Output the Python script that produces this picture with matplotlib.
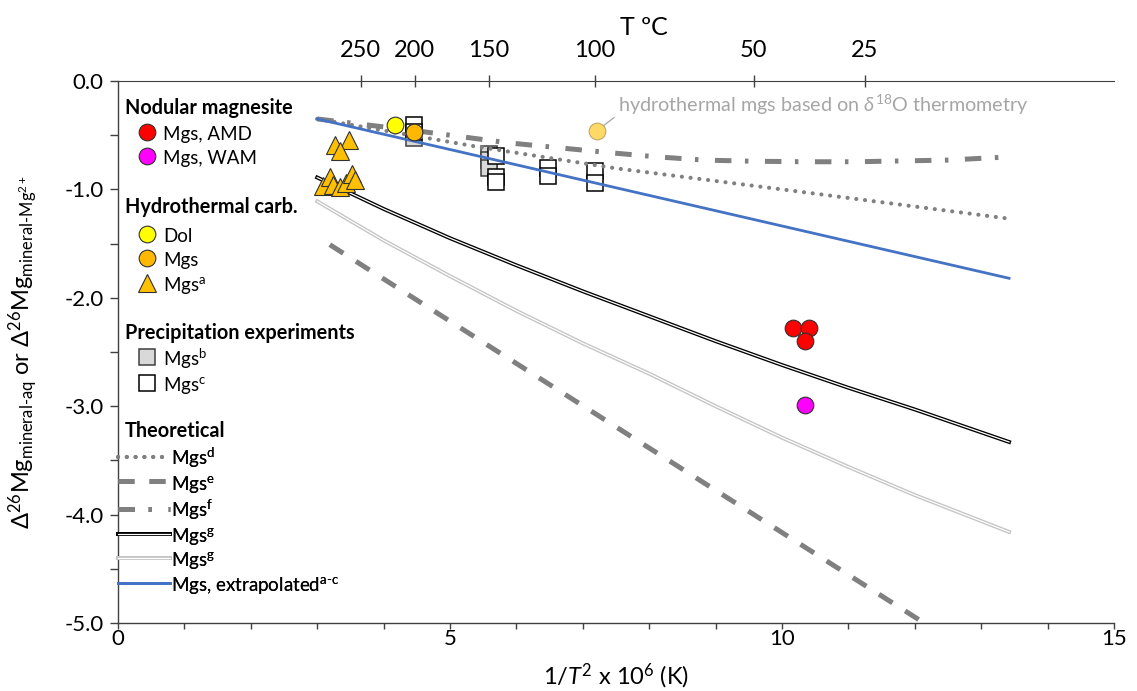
import numpy as np
import matplotlib
matplotlib.use('Agg')
import matplotlib.pyplot as plt
import matplotlib.patheffects as pe
from matplotlib.ticker import FormatStrFormatter

plt.rcParams['font.family'] = ['Lato', 'DejaVu Sans']
plt.rcParams['mathtext.fontset'] = 'custom'
plt.rcParams['mathtext.rm'] = 'Lato'
plt.rcParams['mathtext.it'] = 'Lato:italic'
plt.rcParams['mathtext.bf'] = 'Lato:bold'
plt.rcParams['mathtext.default'] = 'regular'
plt.rcParams['axes.unicode_minus'] = False

# ---------------- data ----------------
# Nodular magnesite
amd_x = [10.16, 10.41, 10.35]
amd_y = [-2.28, -2.28, -2.40]
wam_x = [10.35]
wam_y = [-2.99]
# Hydrothermal carbonates
dol_x = [4.17]
dol_y = [-0.41]
hmgs_x = [4.46]
hmgs_y = [-0.47]
mgsa_x = [3.27, 3.48, 3.35, 3.08, 3.19, 3.24, 3.34, 3.44, 3.52, 3.57]
mgsa_y = [-0.59, -0.54, -0.65, -0.97, -0.89, -0.96, -0.975, -0.94, -0.86, -0.91]
# Precipitation experiments
mgsb_x = [4.46, 5.58, 5.58, 5.58]
mgsb_y = [-0.53, -0.67, -0.73, -0.80]
mgsc_x = [4.46, 4.46, 5.69, 5.69, 5.69, 6.48, 6.48, 7.19, 7.19]
mgsc_y = [-0.41, -0.47, -0.69, -0.89, -0.93, -0.80, -0.88, -0.83, -0.94]
# hydrothermal mgs (d18O thermometry)
o18_x = [7.21]
o18_y = [-0.46]

# Theoretical curves
mgsd_x = [3.0, 5.35, 7.49, 10.0, 13.42]
mgsd_y = [-0.35, -0.60, -0.805, -1.00, -1.27]
mgse_x = [3.19, 12.14]
mgse_y = [-1.51, -5.0]
mgsf_x = [3.0, 4.5, 5.87, 7.38, 8.12, 8.84, 9.56, 10.35, 11.1, 12.48, 13.42]
mgsf_y = [-0.35, -0.46, -0.57, -0.66, -0.70, -0.73, -0.74, -0.745, -0.745, -0.73, -0.70]
mgsg_x = [3.0, 4, 5, 6, 7, 8, 9, 10, 11, 12, 13.42]
mgsg1_y = [-0.89, -1.18, -1.45, -1.70, -1.94, -2.17, -2.40, -2.62, -2.83, -3.03, -3.33]
mgsg2_y = [-1.11, -1.47, -1.80, -2.12, -2.42, -2.70, -3.00, -3.29, -3.56, -3.82, -4.16]
ext_x = [3.0, 13.42]
ext_y = [-0.35, -1.82]

top_T = [250, 200, 150, 100, 50, 25]

# ---------------- figure ----------------
fig = plt.figure(figsize=(11.37, 6.91), dpi=100)
ax = fig.add_axes([118 / 1137, 1 - 623 / 691, 996 / 1137, 542 / 691])
ax.set_xlim(0, 15)
ax.set_ylim(-5, 0)

gray = '#808080'
l_d, = ax.plot(mgsd_x, mgsd_y, color=gray, lw=3.0, dashes=(0.01, 2.1),
               dash_capstyle='round', zorder=2)
l_e, = ax.plot(mgse_x, mgse_y, color=gray, lw=3.6, dashes=(3.2, 3.0),
               dash_capstyle='butt', zorder=2)
l_f, = ax.plot(mgsf_x, mgsf_y, color=gray, lw=3.6, dashes=(3.3, 2.7, 0.7, 3.3),
               dash_capstyle='butt', zorder=2)
l_g1, = ax.plot(mgsg_x, mgsg1_y, color='white', lw=0.9, zorder=2,
                path_effects=[pe.Stroke(linewidth=2.8, foreground='black'), pe.Normal()])
l_g2, = ax.plot(mgsg_x, mgsg2_y, color='white', lw=0.9, zorder=2,
                path_effects=[pe.Stroke(linewidth=2.8, foreground='#C4C4C4'), pe.Normal()])
l_ext, = ax.plot(ext_x, ext_y, color='#4472C4', lw=2.0, zorder=2.1)

mew = 0.8
p_b, = ax.plot(mgsb_x, mgsb_y, ls='none', marker='s', ms=11, mfc='#D9D9D9',
               mec='#404040', mew=1.1, zorder=1.8)
p_c, = ax.plot(mgsc_x, mgsc_y, ls='none', marker='s', ms=11, mfc='white',
               mec='black', mew=1.1, zorder=1.8)
p_amd, = ax.plot(amd_x, amd_y, ls='none', marker='o', ms=12, mfc='#FF0000',
                 mec='#303030', mew=mew, zorder=3)
p_wam, = ax.plot(wam_x, wam_y, ls='none', marker='o', ms=12, mfc='#FF00FF',
                 mec='#303030', mew=mew, zorder=3)
p_dol, = ax.plot(dol_x, dol_y, ls='none', marker='o', ms=12, mfc='#FFFF00',
                 mec='#303030', mew=mew, zorder=3)
p_hm, = ax.plot(hmgs_x, hmgs_y, ls='none', marker='o', ms=12, mfc='#FFB800',
                mec='#303030', mew=mew, zorder=3)
p_a, = ax.plot(mgsa_x, mgsa_y, ls='none', marker='^', ms=13.5, mfc='#FFC000',
               mec='#303030', mew=mew, zorder=3)
p_o18, = ax.plot(o18_x, o18_y, ls='none', marker='o', ms=12, mfc='#FFD966',
                 mec='#BFA76A', mew=mew, zorder=3)

ax.annotate(r'hydrothermal mgs based on $\mathit{\delta}^{18}$O thermometry',
            xy=(o18_x[0], o18_y[0]), xytext=(7.53, -0.22), textcoords='data',
            color='#A6A6A6', fontsize=14.2, ha='left', va='center',
            arrowprops=dict(arrowstyle='-', color='#A6A6A6', lw=0.9,
                            shrinkA=1, shrinkB=6, relpos=(0, 0.1)))

# ---------------- axes styling ----------------
axc = '#404040'
for s in ['right', 'top']:
    ax.spines[s].set_visible(False)
for s in ['left', 'bottom']:
    ax.spines[s].set_color(axc)
    ax.spines[s].set_linewidth(1.0)

ax.set_xticks([0, 5, 10, 15])
ax.set_xticks(np.arange(0, 16, 1), minor=True)
ax.set_yticks(np.arange(-5, 0.01, 1))
ax.set_yticks(np.arange(-5, 0.01, 0.5), minor=True)
ax.yaxis.set_major_formatter(FormatStrFormatter('%.1f'))
ax.tick_params(which='both', direction='out', length=5.5, width=1, color=axc)
ax.tick_params(axis='x', which='both', length=4.5, pad=0, labelsize=16)
ax.tick_params(axis='y', which='both', pad=5, labelsize=16)

ax.set_xlabel(r'1/$\mathit{T}^2$ x 10$^6$ (K)', fontsize=17, labelpad=9)
ax.set_ylabel(r'$\mathit{\Delta}^{26}$Mg$_{\text{mineral-aq}}$ or '
              r'$\mathit{\Delta}^{26}$Mg$_{\text{mineral-Mg}^{2+}}$', fontsize=17)
ax.yaxis.set_label_coords(-0.078, 0.5)

ax2 = ax.twiny()
ax2.set_xlim(0, 15)
ax2.set_xticks([1e6 / (t + 273.15) ** 2 for t in top_T])
ax2.set_xticklabels([str(t) for t in top_T])
ax2.tick_params(axis='x', direction='inout', length=9, width=1, color=axc,
                pad=10, labelsize=17)
for s in ['right', 'left', 'bottom']:
    ax2.spines[s].set_visible(False)
ax2.spines['top'].set_color(axc)
ax2.set_xlabel('T ºC', fontsize=18)
ax2.xaxis.label.set_va('center')
ax2.xaxis.set_label_coords(0.528, 1.0996)

# ---------------- legend ----------------
fs = 13.5
def fy(py):
    return 1 - (py - 81) / 542

def fx(px):
    return (px - 118) / 996

for title, ypix in [('Nodular magnesite', 107.5), ('Hydrothermal carb.', 207),
                    ('Precipitation experiments', 333), ('Theoretical', 431)]:
    ax.text(fx(125), fy(ypix), title, transform=ax.transAxes, fontsize=14.3,
            fontweight='bold', ha='left', va='center')

common = dict(loc='upper left', frameon=False, fontsize=fs, borderpad=0,
              borderaxespad=0, numpoints=1, bbox_transform=ax.transAxes,
              handleheight=1.3)
groups = [
    ([p_amd, p_wam], ['Mgs, AMD', 'Mgs, WAM'], 123.5),
    ([p_dol, p_hm, p_a], ['Dol', 'Mgs', r'Mgs$^{a}$'], 225.5),
    ([p_b, p_c], [r'Mgs$^{b}$', r'Mgs$^{c}$'], 346.5),
]
for h, lab, top in groups:
    leg = ax.legend(h, lab, bbox_to_anchor=(fx(133), fy(top)), handlelength=1.45,
                    handletextpad=0.15, labelspacing=0.21, **common)
    ax.add_artist(leg)

leg = ax.legend([l_d, l_e, l_f, l_g1, l_g2, l_ext],
                [r'Mgs$^{d}$', r'Mgs$^{e}$', r'Mgs$^{f}$', r'Mgs$^{g}$', r'Mgs$^{g}$',
                 r'Mgs, extrapolated$^{\text{a-c}}$'],
                bbox_to_anchor=(fx(118), fy(445.8)), handlelength=2.75,
                handletextpad=0.08, labelspacing=0.17, **common)
ax.add_artist(leg)

fig.savefig('out.png', dpi=100)
